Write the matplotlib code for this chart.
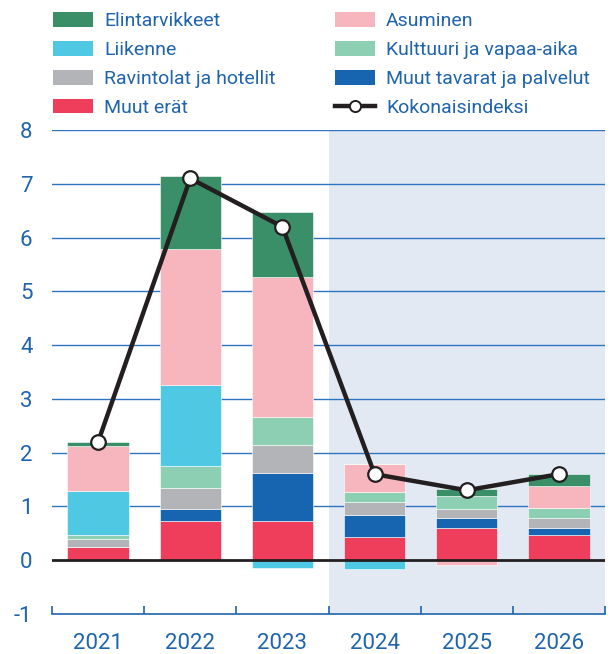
import matplotlib
matplotlib.use("Agg")
from matplotlib import pyplot as plt
from matplotlib.patches import Patch
from matplotlib.lines import Line2D
import numpy as np

plt.rcParams['font.family'] = ['Roboto', 'DejaVu Sans']

years = ["2021", "2022", "2023", "2024", "2025", "2026"]

# contributions, percentage points (bottom -> top in stack)
muut_erat = [0.25, 0.73, 0.73, 0.44, 0.59, 0.46]
muut_tavarat = [0.00, 0.22, 0.90, 0.40, 0.19, 0.14]
ravintolat = [0.14, 0.39, 0.52, 0.25, 0.18, 0.19]
kulttuuri = [0.08, 0.42, 0.51, 0.18, 0.23, 0.18]
liikenne = [0.82, 1.50, -0.14, -0.17, 0.00, 0.00]
asuminen = [0.84, 2.53, 2.61, 0.52, -0.09, 0.41]
elintarvikkeet = [0.07, 1.36, 1.20, 0.00, 0.13, 0.22]
kokonaisindeksi = [2.2, 7.1, 6.2, 1.6, 1.3, 1.6]

series = [
    ("Muut erät", muut_erat, "#ef3e5c"),
    ("Muut tavarat ja palvelut", muut_tavarat, "#1764b0"),
    ("Ravintolat ja hotellit", ravintolat, "#b3b4b7"),
    ("Kulttuuri ja vapaa-aika", kulttuuri, "#8ccfb2"),
    ("Liikenne", liikenne, "#4fc8e4"),
    ("Asuminen", asuminen, "#f7b6be"),
    ("Elintarvikkeet", elintarvikkeet, "#3a8f68"),
]

blue = "#1f64ad"
grid_blue = "#2f74c0"

fig = plt.figure(figsize=(6.11, 6.54), dpi=100)
ax = fig.add_axes([0.0851, 0.0612, 0.9051, 0.74])

x = np.arange(len(years))
ax.axvspan(2.5, 5.5, color="#e3e9f3", zorder=0, lw=0)

pos_base = np.zeros(len(years))
neg_base = np.zeros(len(years))
for name, vals, col in series:
    v = np.array(vals)
    bottoms = np.where(v >= 0, pos_base, neg_base)
    ax.bar(x, v, width=0.665, bottom=bottoms, color=col, edgecolor="white",
           linewidth=0.4, zorder=2)
    pos_base = pos_base + np.where(v > 0, v, 0)
    neg_base = neg_base + np.where(v < 0, v, 0)

ax.axhline(0, color="#231f20", lw=2.0, zorder=3)
ax.plot(x, kokonaisindeksi, color="#231f20", lw=3.2, marker="o", ms=10.5,
        mfc="white", mec="#231f20", mew=1.6, zorder=4)

ax.set_xlim(-0.5, 5.5)
ax.set_ylim(-1, 8)
ax.set_yticks(range(-1, 9))
ax.set_yticklabels([str(i) for i in range(-1, 9)])
for yv in range(1, 9):
    ax.axhline(yv, color=grid_blue, lw=1.0, zorder=1)

ax.set_xticks(x)
ax.set_xticklabels(years)
ax.set_xticks(np.arange(-0.5, 6, 1), minor=True)
ax.tick_params(axis="x", which="major", length=0, pad=14, labelsize=16, labelcolor=blue)
ax.tick_params(axis="x", which="minor", direction="in", length=6, color=blue, width=1.2)
ax.tick_params(axis="y", length=0, pad=14, labelsize=16, labelcolor=blue)
for s in ["top", "left", "right"]:
    ax.spines[s].set_visible(False)
ax.spines["bottom"].set_color(blue)
ax.spines["bottom"].set_linewidth(1.2)

lookup = {name: col for name, vals, col in series}
order = ["Elintarvikkeet", "Liikenne", "Ravintolat ja hotellit", "Muut erät",
         "Asuminen", "Kulttuuri ja vapaa-aika", "Muut tavarat ja palvelut"]
handles = [Patch(facecolor=lookup[n], label=n) for n in order]
handles.append(Line2D([0], [0], color="#231f20", lw=3.2, marker="o", ms=8,
                      mfc="white", mec="#231f20", mew=1.4, label="Kokonaisindeksi"))
leg = fig.legend(handles=handles, ncol=2, loc="upper left",
                 bbox_to_anchor=(0.058, 1.008), frameon=False, fontsize=14,
                 handlelength=2.06, handleheight=0.77, handletextpad=0.57,
                 columnspacing=3.05, labelspacing=0.56)
for t in leg.get_texts():
    t.set_color(blue)

fig.savefig("out.png", dpi=100)
